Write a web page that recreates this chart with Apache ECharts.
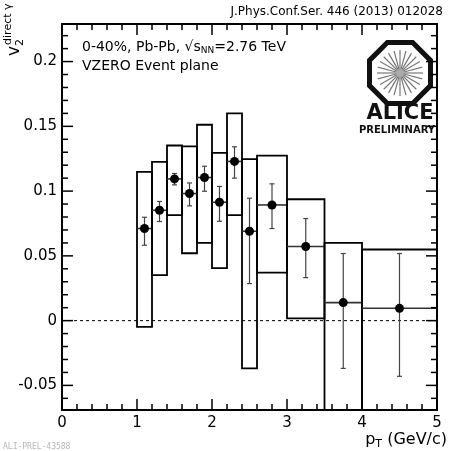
<!DOCTYPE html>
<html><head><meta charset="utf-8">
<script src="https://cdn.jsdelivr.net/npm/echarts@6/dist/echarts.min.js"></script>
<style>html,body{margin:0;padding:0;background:#fff}#c{width:449px;height:451px}</style>
</head><body><div id="c"></div>
<script>
// ---- data ----
const ptCenter = [1.1, 1.3, 1.5, 1.7, 1.9, 2.1, 2.3, 2.5, 2.8, 3.25, 3.75, 4.5];
const binLow   = [1.0, 1.2, 1.4, 1.6, 1.8, 2.0, 2.2, 2.4, 2.6, 3.0, 3.5, 4.0];
const binHigh  = [1.2, 1.4, 1.6, 1.8, 2.0, 2.2, 2.4, 2.6, 3.0, 3.5, 4.0, 5.0];
const v2Values = [0.0711, 0.0852, 0.1094, 0.0981, 0.1105, 0.0914, 0.1229, 0.0690, 0.0893, 0.0572, 0.0139, 0.0095];
const statUp   = [0.0798, 0.0920, 0.1136, 0.1063, 0.1192, 0.1036, 0.1342, 0.0945, 0.1056, 0.0788, 0.0518, 0.0518];
const statDown = [0.0582, 0.0765, 0.1048, 0.0886, 0.0999, 0.0767, 0.1100, 0.0286, 0.0711, 0.0332, -0.0369, -0.0430];
const sysUp    = [0.1148, 0.1226, 0.1352, 0.1345, 0.1512, 0.1295, 0.1600, 0.1247, 0.1274, 0.0937, 0.0600, 0.0549];
const sysDown  = [-0.0049, 0.0352, 0.0814, 0.0520, 0.0600, 0.0406, 0.0814, -0.0369, 0.0371, 0.0018, -0.10, -0.10];
const xTickLabels = ['0', '1', '2', '3', '4', '5'];
const yMajorTicks = [-0.05, 0, 0.05, 0.1, 0.15, 0.2];
const yTickLabels = ['-0.05', '0', '0.05', '0.1', '0.15', '0.2'];
const Y_MIN = -0.069, Y_MAX = 0.229, X_MIN = 0, X_MAX = 5;

const FONT = 'DejaVu Sans';
const chart = echarts.init(document.getElementById('c'), null, {renderer: 'canvas'});

// minor y ticks every 0.01
const yMinorTicks = [];
for (let k = -6; k <= 22; k++) { if (k % 5 !== 0) yMinorTicks.push(k / 100); }
const yTickData = yMajorTicks.map(v => [0, v, 1]).concat(yMinorTicks.map(v => [0, v, 0]));

const mainData = ptCenter.map((x, i) => [x, v2Values[i], statDown[i], statUp[i], sysDown[i], sysUp[i], binLow[i], binHigh[i]]);

// text width helper
const mctx = document.createElement('canvas').getContext('2d');
function tw(txt, font) { mctx.font = font; return mctx.measureText(txt).width; }

function clampY(api, py) {
  const top = api.coord([0, Y_MAX])[1], bot = api.coord([0, Y_MIN])[1];
  return Math.max(top, Math.min(bot, py));
}

const axisCommon = {
  type: 'value', min: X_MIN, max: X_MAX, interval: 1,
  axisLine: {show: true, onZero: false, lineStyle: {color: '#000', width: 2}},
  axisTick: {show: true, inside: true, length: 11, lineStyle: {color: '#000', width: 1.5}},
  minorTick: {show: true, splitNumber: 5, length: 6, lineStyle: {color: '#000', width: 1.5}},
  splitLine: {show: false}, minorSplitLine: {show: false}
};

function T(x, y, text, font, extra) {
  return {type: 'text', x: x, y: y, style: Object.assign({text: text, font: font, fill: '#000', verticalAlign: 'middle'}, extra || {})};
}

// Legend/label composition
const f14 = '14px ' + FONT, f9 = '9px ' + FONT;
const l1a = '0-40%, Pb-Pb, \u221As', l1b = 'NN', l1c = '=2.76 TeV';
const l1x = 82, l1y = 47;
const w1a = tw(l1a, f14), w1b = tw(l1b, f9);

const f16 = '16px ' + FONT, f11 = '11px ' + FONT;
const xtC = ' (GeV/c)';
const xtRight = 447, xtY = 440;
const wC = tw(xtC, f16), wT = tw('T', f11), wP = tw('p', f16);

const graphics = [];
graphics.push(T(443, 12, 'J.Phys.Conf.Ser. 446 (2013) 012028', '12px ' + FONT, {align: 'right'}));
graphics.push(T(l1x, l1y, l1a, f14));
graphics.push(T(l1x + w1a, l1y + 4, l1b, f9));
graphics.push(T(l1x + w1a + w1b, l1y, l1c, f14));
graphics.push(T(l1x, l1y + 19, 'VZERO Event plane', f14));
// x axis title
graphics.push(T(xtRight - wC, xtY, xtC, f16));
graphics.push(T(xtRight - wC - wT, xtY + 4, 'T', f11));
graphics.push(T(xtRight - wC - wT - wP, xtY, 'p', f16));
// y axis title (rotated, reads bottom to top)
const fv = '17px ' + FONT, fs = '11px ' + FONT;
const wv = tw('v', fv);
graphics.push({type: 'group', x: 15, y: 56, rotation: Math.PI / 2, children: [
  T(0, 0, 'v', fv),
  T(wv, 5, '2', fs),
  T(wv + 1, -7, 'direct \u03B3', fs)
]});
// bottom-left id
graphics.push(T(3, 447, 'ALI-PREL-43588', '8px DejaVu Sans Mono', {fill: '#b5b5b5'}));
// ALICE logo
const cx = 400, cy = 73, R = 33;
const oct = [];
for (let k = 0; k < 8; k++) { const a = (22.5 + 45 * k) * Math.PI / 180; oct.push([cx + R * Math.cos(a), cy + R * Math.sin(a)]); }
graphics.push({type: 'polygon', shape: {points: oct}, style: {fill: '#fff', stroke: '#111', lineWidth: 5}});
for (let k = 0; k < 24; k++) {
  const a = k * 15 * Math.PI / 180;
  graphics.push({type: 'line', shape: {x1: cx + 3 * Math.cos(a), y1: cy + 3 * Math.sin(a), x2: cx + 23 * Math.cos(a), y2: cy + 23 * Math.sin(a)}, style: {stroke: '#777', lineWidth: 1.2}});
}
graphics.push({type: 'circle', shape: {cx: cx, cy: cy, r: 4}, style: {fill: '#aaa'}});
graphics.push(T(cx, 114, 'ALICE', 'bold 21px ' + FONT, {fill: '#111', align: 'center'}));
graphics.push(T(397, 130, 'PRELIMINARY', 'bold 10px ' + FONT, {fill: '#111', align: 'center'}));

const option = {
  animation: false,
  backgroundColor: '#fff',
  grid: {left: 62, right: 12, top: 24, bottom: 41, containLabel: false},
  xAxis: [
    Object.assign({}, axisCommon, {position: 'bottom',
      axisLabel: {show: true, margin: 6, fontFamily: FONT, fontSize: 15, color: '#000', formatter: v => xTickLabels[Math.round(v)]}}),
    Object.assign({}, axisCommon, {position: 'top', axisLabel: {show: false}})
  ],
  yAxis: [
    {type: 'value', min: Y_MIN, max: Y_MAX, position: 'left', axisLine: {show: true, onZero: false, lineStyle: {color: '#000', width: 2}},
     axisTick: {show: false}, axisLabel: {show: false}, splitLine: {show: false}},
    {type: 'value', min: Y_MIN, max: Y_MAX, position: 'right', axisLine: {show: true, onZero: false, lineStyle: {color: '#000', width: 2}},
     axisTick: {show: false}, axisLabel: {show: false}, splitLine: {show: false}}
  ],
  graphic: graphics,
  series: [
    { // y ticks + labels via the axis scale
      type: 'custom', silent: true, data: yTickData, z: 5,
      renderItem: function (params, api) {
        const v = api.value(1), major = api.value(2) === 1;
        const l = api.coord([X_MIN, v]), r = api.coord([X_MAX, v]);
        const len = major ? 11 : 6;
        const ch = [
          {type: 'line', shape: {x1: l[0], y1: l[1], x2: l[0] + len, y2: l[1]}, style: {stroke: '#000', lineWidth: 1.5}},
          {type: 'line', shape: {x1: r[0], y1: r[1], x2: r[0] - len, y2: r[1]}, style: {stroke: '#000', lineWidth: 1.5}}
        ];
        if (major) ch.push(T(l[0] - 5, l[1], yTickLabels[params.dataIndex], '15px ' + FONT, {align: 'right'}));
        return {type: 'group', children: ch};
      }
    },
    { // zero reference line
      type: 'custom', silent: true, data: [[X_MIN, 0]], z: 2,
      renderItem: function (params, api) {
        const a = api.coord([X_MIN, 0]), b = api.coord([X_MAX, 0]);
        return {type: 'line', shape: {x1: a[0], y1: a[1], x2: b[0], y2: b[1]}, style: {stroke: '#000', lineWidth: 1, lineDash: [3, 3]}};
      }
    },
    { // systematic boxes
      type: 'custom', silent: true, data: mainData, z: 3,
      renderItem: function (params, api) {
        const x0 = api.coord([api.value(6), 0])[0], x1 = api.coord([api.value(7), 0])[0];
        const yt = clampY(api, api.coord([0, api.value(5)])[1]);
        const yb = clampY(api, api.coord([0, api.value(4)])[1]);
        const yc = api.coord([0, api.value(1)])[1];
        return {type: 'group', children: [
          {type: 'rect', shape: {x: x0, y: yt, width: x1 - x0, height: yb - yt}, style: {fill: 'none', stroke: '#000', lineWidth: 1.8}},
          {type: 'line', shape: {x1: x0, y1: yc, x2: x1, y2: yc}, style: {stroke: '#333', lineWidth: 1.6}}
        ]};
      }
    },
    { // statistical error bars and points
      type: 'custom', silent: true, data: mainData, z: 4,
      renderItem: function (params, api) {
        const p = api.coord([api.value(0), api.value(1)]);
        const yl = clampY(api, api.coord([0, api.value(2)])[1]);
        const yh = clampY(api, api.coord([0, api.value(3)])[1]);
        const cap = 2.5;
        return {type: 'group', children: [
          {type: 'line', shape: {x1: p[0], y1: yh, x2: p[0], y2: yl}, style: {stroke: '#444', lineWidth: 1.2}},
          {type: 'line', shape: {x1: p[0] - cap, y1: yh, x2: p[0] + cap, y2: yh}, style: {stroke: '#444', lineWidth: 1.2}},
          {type: 'line', shape: {x1: p[0] - cap, y1: yl, x2: p[0] + cap, y2: yl}, style: {stroke: '#444', lineWidth: 1.2}},
          {type: 'circle', shape: {cx: p[0], cy: p[1], r: 4.5}, style: {fill: '#000'}}
        ]};
      }
    }
  ]
};
chart.setOption(option);
</script></body></html>
